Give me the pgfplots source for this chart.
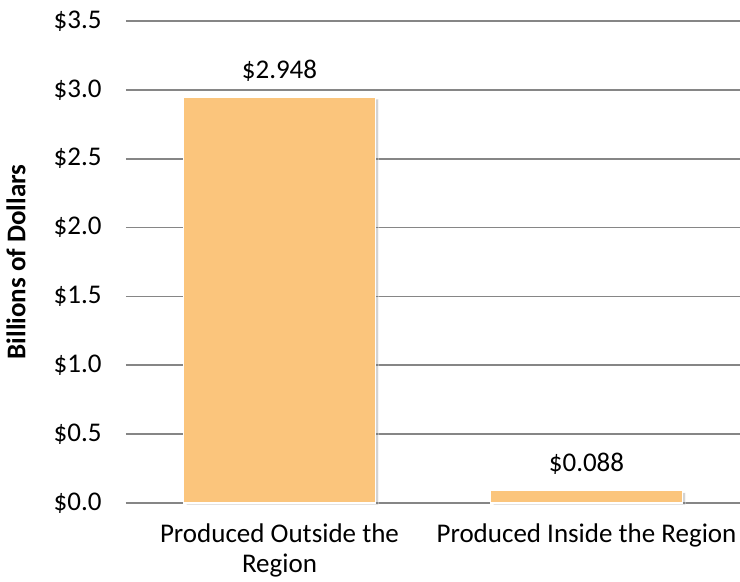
\documentclass[border=0pt]{standalone}
\usepackage{pgfplots}
\pgfplotsset{compat=1.18}
\usepackage{fontspec}
\setmainfont{Carlito}
\usetikzlibrary{shadows}
\definecolor{barfill}{RGB}{251,197,124}
\definecolor{gridgray}{RGB}{134,134,134}
\begin{document}
\fontsize{13.5}{16}\selectfont
\begin{tikzpicture}
\begin{axis}[
  name=ax,
  scale only axis,
  width=307pt, height=241pt,
  xmin=-0.5, xmax=1.5,
  ymin=0, ymax=3.5,
  ytick={0,0.5,1,1.5,2,2.5,3,3.5},
  xtick={0,1},
  xticklabels={{Produced Outside the\\Region},{Produced Inside the Region}},
  xticklabel style={align=center, anchor=north, inner sep=0pt, yshift=-10pt, font=\fontsize{13.5}{15}\selectfont},
  yticklabel={\$\pgfmathprintnumber[fixed,fixed zerofill,precision=1]{\tick}},
  yticklabel style={anchor=east, inner sep=0pt, xshift=-12pt},
  /pgf/number format/assume math mode=true,
  major tick length=0pt,
  ymajorgrids,
  grid style={gridgray, line width=0.8pt},
  axis lines*=left,
  x axis line style={gridgray, line width=0.8pt, -},
  y axis line style={draw=none},
  ylabel={\textbf{Billions of Dollars}},
  every axis y label/.style={at={(axis description cs:0,0.5)}, rotate=90, anchor=center, yshift=55pt},
  ybar, bar width=0.625,
  nodes near coords={\$\pgfmathprintnumber[fixed,fixed zerofill,precision=3]{\pgfplotspointmeta}},
  nodes near coords style={anchor=base, inner sep=0pt, yshift=9.5pt, black},
  clip=false,
]
\addplot[fill=barfill, draw=white, line width=0.6pt,
  drop shadow={shadow xshift=1.5pt, shadow yshift=-1pt, opacity=0.35}]
  coordinates {(0,2.948) (1,0.088)};
\end{axis}
\pgfresetboundingbox
\path[use as bounding box] ([xshift=-63pt,yshift=-39.5pt]ax.south west) rectangle ([yshift=10.5pt]ax.north east);
\end{tikzpicture}
\end{document}
